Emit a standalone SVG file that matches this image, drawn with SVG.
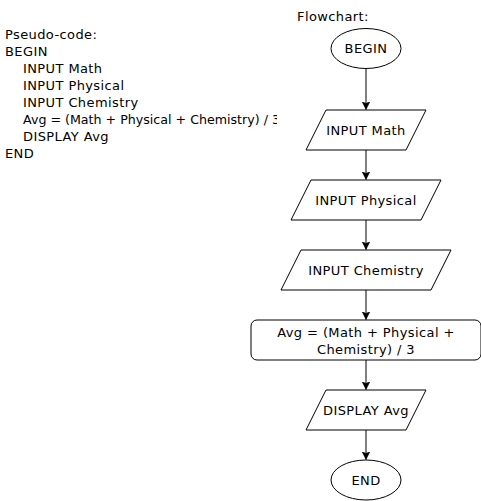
<svg xmlns="http://www.w3.org/2000/svg" width="481" height="501" viewBox="0 0 481 501">
<style>
text{font-family:"DejaVu Sans","Liberation Sans",sans-serif;font-size:13px;letter-spacing:0.4px;fill:#000}
.c{text-anchor:middle}
.s{fill:#fff;stroke:#000;stroke-width:1}
.e{fill:none;stroke:#000;stroke-width:1}
</style>
<defs>
<marker id="a" markerWidth="10" markerHeight="10" refX="8" refY="4" orient="auto" markerUnits="userSpaceOnUse" viewBox="0 0 10 8">
<path d="M0,0 L8,4 L0,8 L2,4 Z" fill="#000" stroke="#000" stroke-width="0.5"/>
</marker>
<clipPath id="clip"><rect x="0" y="0" width="277" height="200"/></clipPath>
</defs>
<rect width="481" height="501" fill="#fff"/>
<g id="pseudocode" clip-path="url(#clip)">
<text x="5" y="38.5">Pseudo-code:</text>
<text x="5" y="55.5">BEGIN</text>
<text x="23" y="72.5">INPUT Math</text>
<text x="23" y="89.5">INPUT Physical</text>
<text x="23" y="106.5">INPUT Chemistry</text>
<text x="23" y="123.5" style="letter-spacing:0" textLength="257" lengthAdjust="spacingAndGlyphs">Avg = (Math + Physical + Chemistry) / 3</text>
<text x="23" y="140.5">DISPLAY Avg</text>
<text x="5" y="157.5">END</text>
</g>
<g id="flowchart-label"><text x="297" y="21">Flowchart:</text></g>
<g id="connectors">
<path class="e" d="M366,68.5 V109.5" marker-end="url(#a)"/>
<path class="e" d="M366,150 V179.5" marker-end="url(#a)"/>
<path class="e" d="M366,220 V249.5" marker-end="url(#a)"/>
<path class="e" d="M366,290 V319.5" marker-end="url(#a)"/>
<path class="e" d="M366,360 V389.5" marker-end="url(#a)"/>
<path class="e" d="M366,430 V459.5" marker-end="url(#a)"/>
</g>
<g id="begin">
<ellipse class="s" cx="366" cy="48.5" rx="35" ry="20"/>
<text class="c" x="366" y="53">BEGIN</text>
</g>
<g id="input-math">
<polygon class="s" points="326,110 426,110 406,150 306,150"/>
<text class="c" x="366" y="134.5">INPUT Math</text>
</g>
<g id="input-physical">
<polygon class="s" points="311,180 441,180 421,220 291,220"/>
<text class="c" x="366" y="204.5">INPUT Physical</text>
</g>
<g id="input-chemistry">
<polygon class="s" points="301,250 451,250 431,290 281,290"/>
<text class="c" x="366" y="274.5">INPUT Chemistry</text>
</g>
<g id="avg">
<rect class="s" x="251" y="320" width="230" height="40" rx="6" ry="6"/>
<text class="c" x="366" y="336.5">Avg = (Math + Physical +</text>
<text class="c" x="366" y="354">Chemistry) / 3</text>
</g>
<g id="display-avg">
<polygon class="s" points="326,390 426,390 406,430 306,430"/>
<text class="c" x="366" y="414.5">DISPLAY Avg</text>
</g>
<g id="end">
<ellipse class="s" cx="366" cy="480" rx="35" ry="20"/>
<text class="c" x="366" y="484.5">END</text>
</g>
</svg>
